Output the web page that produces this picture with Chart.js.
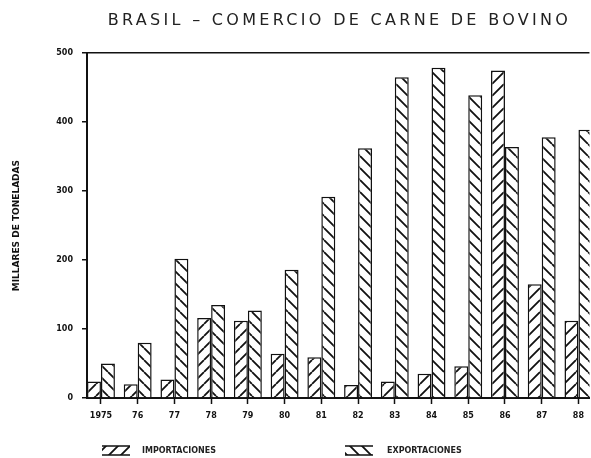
<!DOCTYPE html>
<html><head><meta charset="utf-8">
<script src="https://cdn.jsdelivr.net/npm/chart.js@4"></script>
<style>html,body{margin:0;padding:0;background:#fff;overflow:hidden}canvas{display:block}</style>
</head><body>
<canvas id="c" width="591" height="458"></canvas>
<script>
const TITLE = 'BRASIL – COMERCIO DE CARNE DE BOVINO';
const Y_TITLE = 'MILLARES DE TONELADAS';
const years = ['1975','76','77','78','79','80','81','82','83','84','85','86','87','88'];
const importaciones = [24, 20, 27, 116, 112, 64, 59, 19, 24, 35, 46, 475, 165, 112];
const exportaciones = [50, 80, 202, 135, 127, 186, 292, 362, 465, 479, 439, 364, 378, 389];
const yTicks = [0, 100, 200, 300, 400, 500];
const seriesNames = ['IMPORTACIONES', 'EXPORTACIONES'];

const canvas = document.getElementById('c');
const mainCtx = canvas.getContext('2d');

function hatch(dir) {
  const s = 12;
  const t = document.createElement('canvas');
  t.width = s; t.height = s;
  const g = t.getContext('2d');
  g.fillStyle = '#fff'; g.fillRect(0, 0, s, s);
  g.strokeStyle = '#111'; g.lineWidth = 1.8;
  g.beginPath();
  for (const o of [-s, 0, s]) {
    if (dir === '/') { g.moveTo(o, s); g.lineTo(o + s, 0); }
    else { g.moveTo(o, 0); g.lineTo(o + s, s); }
  }
  g.stroke();
  return mainCtx.createPattern(t, 'repeat');
}

const titleSpacing = {
  id: 'titleSpacing',
  beforeDraw(chart) {
    const tb = chart.titleBlock;
    if (tb && !tb._patched) {
      const orig = tb.draw;
      tb.draw = function () {
        const c = this.ctx;
        c.save();
        try { c.letterSpacing = '3.3px'; } catch (e) {}
        c.translate(44, 0);
        orig.apply(this, arguments);
        c.restore();
      };
      tb._patched = true;
    }
  }
};

const legendPos = [{x: 102, textX: 142}, {x: 345, textX: 387}];
const customLegend = {
  id: 'customLegend',
  afterDraw(chart) {
    const ctx = chart.ctx;
    const swW = 28, swH = 9, legY = 446;
    chart.data.datasets.forEach((ds, i) => {
      const p = legendPos[i];
      ctx.save();
      ctx.fillStyle = ds.backgroundColor;
      ctx.fillRect(p.x, legY, swW, swH);
      ctx.strokeStyle = '#111'; ctx.lineWidth = 1.5;
      ctx.beginPath();
      ctx.moveTo(p.x, legY); ctx.lineTo(p.x + swW, legY);
      ctx.moveTo(p.x, legY + swH); ctx.lineTo(p.x + swW, legY + swH);
      ctx.stroke();
      ctx.fillStyle = '#222';
      ctx.font = 'bold 8px "DejaVu Sans"';
      ctx.textBaseline = 'middle';
      ctx.fillText(ds.label, p.textX, legY + swH / 2);
      ctx.restore();
    });
  }
};

new Chart(canvas, {
  type: 'bar',
  data: {
    datasets: [
      { label: seriesNames[0], data: importaciones.map((v, i) => ({x: i, y: v})),
        backgroundColor: hatch('/'), borderColor: '#111', borderWidth: 1.5, borderSkipped: 'start' },
      { label: seriesNames[1], data: exportaciones.map((v, i) => ({x: i, y: v})),
        backgroundColor: hatch('\\'), borderColor: '#111', borderWidth: 1.5, borderSkipped: 'start' }
    ]
  },
  options: {
    responsive: false, animation: false, devicePixelRatio: 1,
    layout: {padding: {left: 0, right: 0, top: 0, bottom: 38}},
    datasets: {bar: {categoryPercentage: 0.76, barPercentage: 1}},
    plugins: {
      legend: {display: false}, tooltip: {enabled: false},
      title: {display: true, text: TITLE, color: '#222',
        font: {family: 'DejaVu Sans', size: 16, weight: 'normal', lineHeight: 1.2},
        padding: {top: 11, bottom: 23}}
    },
    scales: {
      x: {
        type: 'linear', min: -0.38, max: 13.3, offset: false,
        afterBuildTicks: (s) => { s.ticks = years.map((_, i) => ({value: i})); },
        ticks: {autoSkip: false, maxRotation: 0, padding: 7, color: '#111',
          font: {family: 'DejaVu Sans', size: 8, weight: 'bold'},
          callback: (v) => years[v]},
        grid: {offset: false, drawOnChartArea: false, drawTicks: true, tickLength: 6, tickColor: '#111', tickWidth: 1.5},
        border: {display: true, color: '#111', width: 2},
        afterFit: (s) => { s.height = 22; }
      },
      y: {
        min: 0, max: 500,
        afterBuildTicks: (s) => { s.ticks = yTicks.map(v => ({value: v})); },
        ticks: {padding: 9, color: '#111', font: {family: 'DejaVu Sans', size: 8, weight: 'bold'}},
        grid: {color: (c) => (c.tick && c.tick.value === 500) ? '#111' : 'rgba(0,0,0,0)',
          lineWidth: 1.5, tickLength: 5, tickColor: '#111', tickWidth: 1.5},
        border: {display: true, color: '#111', width: 2},
        title: {display: true, text: Y_TITLE, color: '#111',
          font: {family: 'DejaVu Sans', size: 9, weight: 'bold'}, padding: {top: 11, bottom: 0}},
        afterFit: (s) => { s.width = 87; }
      }
    }
  },
  plugins: [titleSpacing, customLegend]
});
</script>
</body></html>
